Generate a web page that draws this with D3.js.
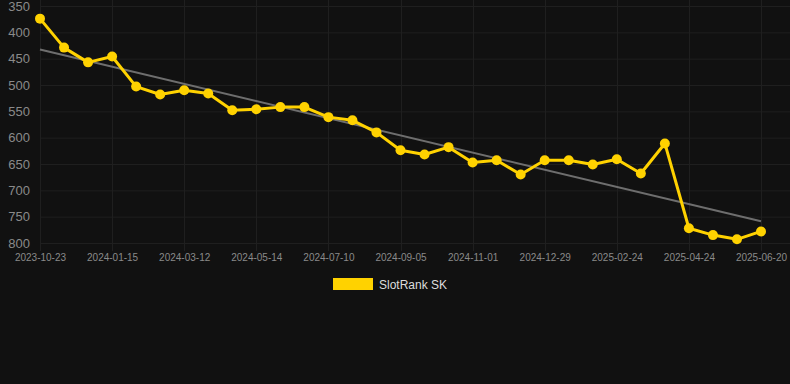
<!DOCTYPE html>
<html>
<head>
<meta charset="utf-8">
<script src="https://cdn.jsdelivr.net/npm/d3@7"></script>
<style>
  html, body { margin: 0; padding: 0; background: #111111; }
  svg { display: block; font-family: Arial, "Liberation Sans", sans-serif; }
</style>
</head>
<body>
<svg id="chart" width="790" height="384"></svg>
<script>
// Ranks, one per week-ish snapshot
var ranks = [374, 429, 457, 446, 503, 518, 510, 516, 548, 546, 542, 542, 561, 567, 590, 624,
             632, 618, 647, 643, 670, 643, 643, 651, 641, 668, 611, 772, 785, 793, 778];
// Labels shown under every third point
var tickLabels = ["2023-10-23", "2024-01-15", "2024-03-12", "2024-05-14", "2024-07-10", "2024-09-05",
                  "2024-11-01", "2024-12-29", "2025-02-24", "2025-04-24", "2025-06-20"];
var yTicks = [350, 400, 450, 500, 550, 600, 650, 700, 750, 800];
var seriesName = "SlotRank SK";

var svg = d3.select("#chart");
var margin = {top: 6, left: 40, bottom: 141, right: 0};
var plotRight = 761;
var plotBottom = 384 - margin.bottom;

var idx = d3.range(ranks.length);

var xScale = d3.scaleLinear()
    .domain([0, ranks.length - 1])
    .range([margin.left, plotRight]);

// Rank axis is reversed: best rank on top
var yScale = d3.scaleLinear()
    .domain([350, 800])
    .range([margin.top, plotBottom]);

// Grid
var gridColor = "#1f1f1f";
var grid = svg.append("g").attr("class", "grid");
grid.selectAll(".hline")
    .data(yTicks)
    .enter().append("line")
    .attr("x1", margin.left).attr("x2", 790)
    .attr("y1", function(d) { return yScale(d) + 0.5; })
    .attr("y2", function(d) { return yScale(d) + 0.5; })
    .attr("stroke", gridColor).attr("stroke-width", 1);

var labelIdx = idx.filter(function(i) { return i % 3 === 0; });
grid.selectAll(".vline")
    .data(labelIdx)
    .enter().append("line")
    .attr("x1", function(i) { return Math.round(xScale(i)) + 0.5; })
    .attr("x2", function(i) { return Math.round(xScale(i)) + 0.5; })
    .attr("y1", 0).attr("y2", plotBottom + 8)
    .attr("stroke", gridColor).attr("stroke-width", 1);

// Y axis labels
var yAxis = d3.axisLeft(yScale).tickValues(yTicks).tickSize(0).tickPadding(0);
var yAxisG = svg.append("g")
    .attr("transform", "translate(30,0)")
    .call(yAxis);
yAxisG.select(".domain").remove();
yAxisG.selectAll("text")
    .attr("fill", "#8a8a8a")
    .style("font-size", "13px");

// X axis labels
var xAxis = d3.axisBottom(xScale)
    .tickValues(labelIdx)
    .tickFormat(function(i) { return tickLabels[i / 3]; })
    .tickSize(0).tickPadding(0);
var xAxisG = svg.append("g")
    .attr("transform", "translate(0," + (plotBottom + 11) + ")")
    .call(xAxis);
xAxisG.select(".domain").remove();
xAxisG.selectAll("text")
    .attr("fill", "#8a8a8a")
    .style("font-size", "10px");

// Linear trend through the ranks
var meanX = d3.mean(idx), meanY = d3.mean(ranks);
var slope = d3.sum(idx, function(i) { return (i - meanX) * (ranks[i] - meanY); }) /
            d3.sum(idx, function(i) { return (i - meanX) * (i - meanX); });
var trend = [0, ranks.length - 1].map(function(i) { return [i, meanY + slope * (i - meanX)]; });

svg.append("path")
    .datum(trend)
    .attr("d", d3.line()
        .x(function(d) { return xScale(d[0]); })
        .y(function(d) { return yScale(d[1]); }))
    .attr("fill", "none")
    .attr("stroke", "#6e6e6e")
    .attr("stroke-width", 2);

// Rank line
var lineColor = "#ffd200";
svg.append("path")
    .datum(idx)
    .attr("d", d3.line()
        .x(function(i) { return xScale(i); })
        .y(function(i) { return yScale(ranks[i]); }))
    .attr("fill", "none")
    .attr("stroke", lineColor)
    .attr("stroke-width", 3)
    .attr("stroke-linejoin", "round");

svg.selectAll(".pt")
    .data(idx)
    .enter().append("circle")
    .attr("cx", function(i) { return xScale(i); })
    .attr("cy", function(i) { return yScale(ranks[i]); })
    .attr("r", 5)
    .attr("fill", lineColor);

// Legend
var legend = svg.append("g").attr("transform", "translate(333,278)");
legend.append("rect")
    .attr("width", 40).attr("height", 12)
    .attr("fill", lineColor);
legend.append("text")
    .attr("x", 46).attr("y", 11)
    .attr("fill", "#dddddd")
    .style("font-size", "12px")
    .text(seriesName);
</script>
</body>
</html>
